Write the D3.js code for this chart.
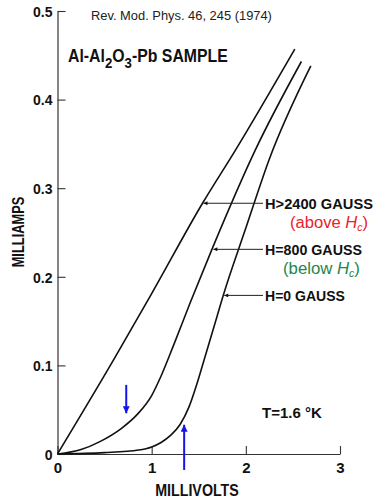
<!DOCTYPE html>
<html>
<head>
<meta charset="utf-8">
<script src="https://cdn.jsdelivr.net/npm/d3@7"></script>
<style>
body { margin: 0; background: #fff; }
svg { display: block; }
</style>
</head>
<body>
<svg width="379" height="498"></svg>
<script>
// data (mV, mA)
var xTicks = [0, 1, 2, 3];
var yTicks = [0, 0.1, 0.2, 0.3, 0.4, 0.5];
var yTickLabels = ["0", "0.1", "0.2", "0.3", "0.4", "0.5"];

var hAbove = [[0,0],[0.6,0.107],[1.0,0.181],[1.54,0.283],[1.89,0.343],[2.52,0.457]];
var h800 = [[0,0],[0.25,0.005],[0.45,0.014],[0.68,0.029],[0.85,0.045],[1.0,0.066],[1.1,0.088],
            [1.23,0.122],[1.41,0.171],[1.64,0.231],[2.1,0.343],[2.59,0.443]];
var h0 = [[0,0],[0.5,0.0015],[0.86,0.0045],[1.0,0.008],[1.1,0.013],[1.2,0.021],[1.3,0.033],
          [1.4,0.054],[1.48,0.079],[1.57,0.111],[1.66,0.143],[1.76,0.179],[2.0,0.255],
          [2.25,0.333],[2.69,0.438]];

var seriesNames = ["H>2400 GAUSS", "H=800 GAUSS", "H=0 GAUSS"];
var seriesNotes = ["above", "below", null];
var labelWidths = [108, 97, 80];
var arrowTips = [[1.54, 0.283], [1.645, 0.231], [1.76, 0.179]];
// blue markers: x, from, to
var blueArrows = [[0.73, 0.078, 0.046], [1.345, -0.018, 0.033]];

var svg = d3.select("svg");
var font = "'Liberation Sans', Arial, sans-serif";

var x = d3.scaleLinear().domain([0, 3]).range([57.5, 340]);
var y = d3.scaleLinear().domain([0, 0.5]).range([454, 11]);

var defs = svg.append("defs");
function marker(id, color, w, h) {
  defs.append("marker").attr("id", id)
    .attr("markerUnits", "userSpaceOnUse")
    .attr("viewBox", "0 0 10 10").attr("refX", 10).attr("refY", 5)
    .attr("markerWidth", w).attr("markerHeight", h)
    .attr("orient", "auto")
    .append("path").attr("d", "M0,0L10,5L0,10Z").attr("fill", color);
}
marker("ahBlack", "#111", 7, 4);
marker("ahBlue", "#1414f0", 8, 7);

// stretch/squeeze a text group to a width
function fit(g, w) {
  var bw = g.node().getBBox().width;
  g.attr("transform", g.attr("transform") + " scale(" + (w / bw) + ",1)");
  return g;
}

// axes
var yAxis = svg.append("g")
  .attr("transform", "translate(" + x(0) + ",0)")
  .call(d3.axisLeft(y).tickValues(yTicks).tickSizeInner(-8).tickSizeOuter(0).tickPadding(5)
    .tickFormat(function(d, i) { return yTickLabels[i]; }));
var xAxis = svg.append("g")
  .attr("transform", "translate(0," + y(0) + ")")
  .call(d3.axisBottom(x).tickValues(xTicks).tickSizeInner(-8).tickSizeOuter(0).tickPadding(8)
    .tickFormat(d3.format("d")));

[yAxis, xAxis].forEach(function(a) {
  a.select(".domain").attr("stroke", "#333").attr("stroke-width", 1.2);
  a.selectAll(".tick line").attr("stroke", "#333").attr("stroke-width", 1.1);
  a.selectAll(".tick text").attr("fill", "#111").attr("font-family", font)
    .attr("font-weight", "bold").attr("font-size", 14);
});
yAxis.selectAll(".tick text").attr("dy", "0.38em");
xAxis.selectAll(".tick text").attr("dy", "0.71em").attr("font-size", 15);

// curves
var line = d3.line()
  .x(function(d) { return x(d[0]); })
  .y(function(d) { return y(d[1]); })
  .curve(d3.curveMonotoneX);

svg.selectAll("path.curve")
  .data([hAbove, h800, h0])
  .enter().append("path")
  .attr("class", "curve")
  .attr("d", line)
  .attr("fill", "none")
  .attr("stroke", "#111")
  .attr("stroke-width", 1.6);

// labels with leader arrows
var labelX = 265;
seriesNames.forEach(function(name, i) {
  var ty = y(arrowTips[i][1]);
  svg.append("line")
    .attr("x1", labelX - 2).attr("y1", ty)
    .attr("x2", x(arrowTips[i][0]) + 1).attr("y2", ty)
    .attr("stroke", "#222").attr("stroke-width", 1)
    .attr("marker-end", "url(#ahBlack)");
  var g = svg.append("g").attr("transform", "translate(" + labelX + "," + (ty + 6) + ")");
  g.append("text").text(name)
    .attr("font-family", font).attr("font-weight", "bold").attr("font-size", 14)
    .attr("fill", "#111");
  fit(g, labelWidths[i]);

  if (seriesNotes[i]) {
    var above = seriesNotes[i] === "above";
    var ng = svg.append("g").attr("transform", "translate(" + (above ? 290 : 283) + "," + (ty + 25) + ")");
    var t = ng.append("text").attr("font-family", font).attr("font-size", 16)
      .attr("fill", above ? "#e8232b" : "#23864a");
    t.append("tspan").text("(" + seriesNotes[i] + " ");
    t.append("tspan").text("H").attr("font-style", "italic");
    t.append("tspan").text("c").attr("font-style", "italic").attr("font-size", 10).attr("dy", 3);
    t.append("tspan").text(")").attr("dy", -3);
    fit(ng, above ? 78 : 77);
  }
});

// blue arrows
svg.selectAll("line.blue")
  .data(blueArrows)
  .enter().append("line")
  .attr("class", "blue")
  .attr("x1", function(d) { return x(d[0]); })
  .attr("x2", function(d) { return x(d[0]); })
  .attr("y1", function(d) { return y(d[1]); })
  .attr("y2", function(d) { return y(d[2]); })
  .attr("stroke", "#1414f0").attr("stroke-width", 2)
  .attr("marker-end", "url(#ahBlue)");

// texts
var ref = svg.append("g").attr("transform", "translate(91,20)");
ref.append("text").text("Rev. Mod. Phys. 46, 245 (1974)")
  .attr("font-family", font).attr("font-size", 13).attr("fill", "#222");
fit(ref, 181);

var title = svg.append("g").attr("transform", "translate(68,61.5)");
var tt = title.append("text").attr("font-family", font).attr("font-weight", "bold")
  .attr("font-size", 18).attr("fill", "#111");
tt.append("tspan").text("Al-Al");
tt.append("tspan").text("2").attr("font-size", 15).attr("dy", 6);
tt.append("tspan").text("O").attr("dy", -6);
tt.append("tspan").text("3").attr("font-size", 15).attr("dy", 6);
tt.append("tspan").text("-Pb SAMPLE").attr("dy", -6);
fit(title, 160);

var temp = svg.append("g").attr("transform", "translate(262,417.5)");
temp.append("text").text("T=1.6 \u00B0K")
  .attr("font-family", font).attr("font-weight", "bold").attr("font-size", 15).attr("fill", "#111");
fit(temp, 60);

var xl = svg.append("g").attr("transform", "translate(197,496)");
xl.append("text").text("MILLIVOLTS").attr("text-anchor", "middle")
  .attr("font-family", font).attr("font-weight", "bold").attr("font-size", 16).attr("fill", "#111");
fit(xl, 84);

var yl = svg.append("g").attr("transform", "translate(24,232) rotate(-90)");
yl.append("text").text("MILLIAMPS").attr("text-anchor", "middle")
  .attr("font-family", font).attr("font-weight", "bold").attr("font-size", 16).attr("fill", "#111");
fit(yl, 71);
</script>
</body>
</html>
